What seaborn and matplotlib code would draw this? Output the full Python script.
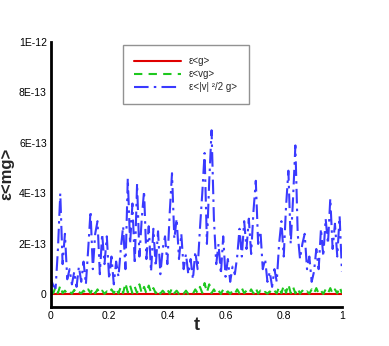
import numpy as np
import pandas as pd
import matplotlib
matplotlib.use("Agg")
import matplotlib.pyplot as plt
from matplotlib.ticker import MultipleLocator, FixedLocator, FixedFormatter
import seaborn as sns

# time grid (t) and series values in units of 1E-13
t_vals = [
    0.000, 0.008, 0.016, 0.024, 0.032, 0.040, 0.048, 0.056, 0.064, 0.072,
    0.080, 0.088, 0.096, 0.104, 0.112, 0.120, 0.128, 0.136, 0.144, 0.152,
    0.160, 0.168, 0.176, 0.184, 0.192, 0.200, 0.208, 0.216, 0.224, 0.232,
    0.240, 0.248, 0.256, 0.264, 0.272, 0.280, 0.288, 0.296, 0.304, 0.312,
    0.320, 0.328, 0.336, 0.344, 0.352, 0.360, 0.368, 0.376, 0.384, 0.392,
    0.400, 0.408, 0.416, 0.424, 0.432, 0.440, 0.448, 0.456, 0.464, 0.472,
    0.480, 0.488, 0.496, 0.504, 0.512, 0.520, 0.528, 0.536, 0.544, 0.552,
    0.560, 0.568, 0.576, 0.584, 0.592, 0.600, 0.608, 0.616, 0.624, 0.632,
    0.640, 0.648, 0.656, 0.664, 0.672, 0.680, 0.688, 0.696, 0.704, 0.712,
    0.720, 0.728, 0.736, 0.744, 0.752, 0.760, 0.768, 0.776, 0.784, 0.792,
    0.800, 0.808, 0.816, 0.824, 0.832, 0.840, 0.848, 0.856, 0.864, 0.872,
    0.880, 0.888, 0.896, 0.904, 0.912, 0.920, 0.928, 0.936, 0.944, 0.952,
    0.960, 0.968, 0.976, 0.984, 0.992, 1.000,
]

eps_v2g = [
    0.6, 0.35, 0.25, 1.8, 4.0, 1.2, 2.4, 0.6, 1.0, 0.4,
    0.9, 0.3, 1.1, 0.5, 1.3, 0.4, 1.8, 3.3, 1.0, 2.4,
    2.9, 0.8, 2.4, 1.2, 2.3, 0.6, 1.5, 0.4, 1.3, 0.7,
    1.8, 2.7, 1.0, 4.6, 2.0, 3.6, 1.2, 4.4, 1.5, 3.0,
    4.1, 1.4, 2.7, 0.9, 2.6, 1.1, 2.5, 0.8, 1.8, 2.3,
    1.2, 3.2, 4.8, 2.2, 3.0, 1.4, 2.4, 1.0, 1.6, 0.8,
    1.4, 0.6, 1.7, 1.0, 2.6, 4.0, 5.6, 2.0, 4.5, 6.5,
    3.0, 1.2, 2.0, 0.8, 2.3, 0.7, 1.4, 0.5, 1.1, 0.8,
    1.5, 2.6, 1.5, 2.9, 1.8, 3.0, 1.6, 3.3, 4.5, 2.0,
    2.5, 1.0, 1.4, 0.5, 0.9, 0.3, 1.0, 0.5, 2.0, 2.9,
    1.5, 3.5, 4.9, 2.0, 3.8, 5.9, 2.4, 1.4, 2.0, 2.4,
    1.0, 1.5, 0.5, 0.9, 1.8, 1.0, 2.6, 1.5, 3.0, 2.0,
    3.8, 1.8, 2.8, 1.5, 3.1, 0.9,
]

eps_vg = [
    0.10, 0.05, 0.30, 0.05, 0.35, 0.05, 0.15, 0.02, 0.12, 0.03,
    0.18, 0.02, 0.10, 0.04, 0.15, 0.03, 0.20, 0.05, 0.25, 0.04,
    0.20, 0.03, 0.15, 0.02, 0.12, 0.03, 0.20, 0.05, 0.25, 0.04,
    0.30, 0.05, 0.45, 0.08, 0.35, 0.05, 0.30, 0.06, 0.40, 0.05,
    0.30, 0.04, 0.35, 0.06, 0.25, 0.05, 0.20, 0.03, 0.15, 0.04,
    0.20, 0.03, 0.25, 0.05, 0.15, 0.02, 0.12, 0.03, 0.15, 0.02,
    0.10, 0.03, 0.20, 0.05, 0.30, 0.06, 0.45, 0.08, 0.40, 0.05,
    0.20, 0.03, 0.15, 0.02, 0.20, 0.04, 0.12, 0.02, 0.15, 0.03,
    0.20, 0.04, 0.25, 0.05, 0.15, 0.03, 0.20, 0.04, 0.25, 0.03,
    0.15, 0.02, 0.10, 0.03, 0.12, 0.02, 0.15, 0.04, 0.30, 0.05,
    0.35, 0.06, 0.40, 0.05, 0.30, 0.04, 0.25, 0.03, 0.15, 0.02,
    0.12, 0.03, 0.20, 0.04, 0.25, 0.03, 0.15, 0.02, 0.20, 0.04,
    0.25, 0.03, 0.20, 0.04, 0.30, 0.05,
]

t_red = [0.0, 0.25, 0.5, 0.75, 1.0]
eps_g = [0.01, 0.01, 0.01, 0.01, 0.01]

y_ticks = [0.0, 2e-13, 4e-13, 6e-13, 8e-13, 1e-12]
y_tick_labels = ["0", "2E-13", "4E-13", "6E-13", "8E-13", "1E-12"]
x_ticks = [0, 0.2, 0.4, 0.6, 0.8, 1]
x_tick_labels = ["0", "0.2", "0.4", "0.6", "0.8", "1"]

df_blue = pd.DataFrame({"t": t_vals, "v": np.array(eps_v2g) * 1e-13})
df_green = pd.DataFrame({"t": t_vals, "v": np.array(eps_vg) * 1e-13})
df_red = pd.DataFrame({"t": t_red, "v": np.array(eps_g) * 1e-13})

sns.set_style("white")
plt.rcParams["font.family"] = ["Liberation Sans", "DejaVu Sans"]

fig = plt.figure(figsize=(3.89, 3.46), dpi=100)
ax = fig.add_axes([0.131, 0.114, 0.748, 0.765])

sns.lineplot(data=df_red, x="t", y="v", ax=ax, color="#e00000", lw=1.5,
             label="\u03b5<g>")
sns.lineplot(data=df_green, x="t", y="v", ax=ax, color="#1ec81e", lw=1.5,
             linestyle=(0, (4, 3)), label="\u03b5<vg>")
sns.lineplot(data=df_blue, x="t", y="v", ax=ax, color="#3a3aff", lw=1.5,
             linestyle=(0, (7, 2.5, 1.2, 2.5)), label="\u03b5<|v| \u00b2/2 g>")

ax.set_xlim(0, 1)
ax.set_ylim(-4.8e-14, 1e-12)

ax.xaxis.set_major_locator(FixedLocator(x_ticks))
ax.xaxis.set_major_formatter(FixedFormatter(x_tick_labels))
ax.xaxis.set_minor_locator(MultipleLocator(0.05))
ax.yaxis.set_major_locator(FixedLocator(y_ticks))
ax.yaxis.set_major_formatter(FixedFormatter(y_tick_labels))
ax.yaxis.set_minor_locator(MultipleLocator(0.5e-13))

ax.tick_params(which="both", direction="in", colors="black", labelsize=7.5)
ax.tick_params(which="major", length=6, width=1.3, pad=3)
ax.tick_params(which="minor", length=3, width=0.8)

for side in ["top", "right"]:
    ax.spines[side].set_visible(False)
for side in ["left", "bottom"]:
    ax.spines[side].set_linewidth(2)
    ax.spines[side].set_color("black")

ax.set_xlabel("t", fontsize=13, fontweight="bold")
ax.set_ylabel("\u03b5<mg>", fontsize=12, fontweight="bold")
ax.xaxis.set_label_coords(0.50, -0.04)
ax.yaxis.set_label_coords(-0.125, 0.5)

leg = ax.legend(loc="upper left", bbox_to_anchor=(0.247, 0.99), fontsize=7,
                frameon=True, fancybox=False, edgecolor="#777777",
                handlelength=4.8, handletextpad=0.8, borderpad=1.2,
                labelspacing=0.3, borderaxespad=0)
leg.get_frame().set_linewidth(1.0)

fig.savefig("out.png", dpi=100)
